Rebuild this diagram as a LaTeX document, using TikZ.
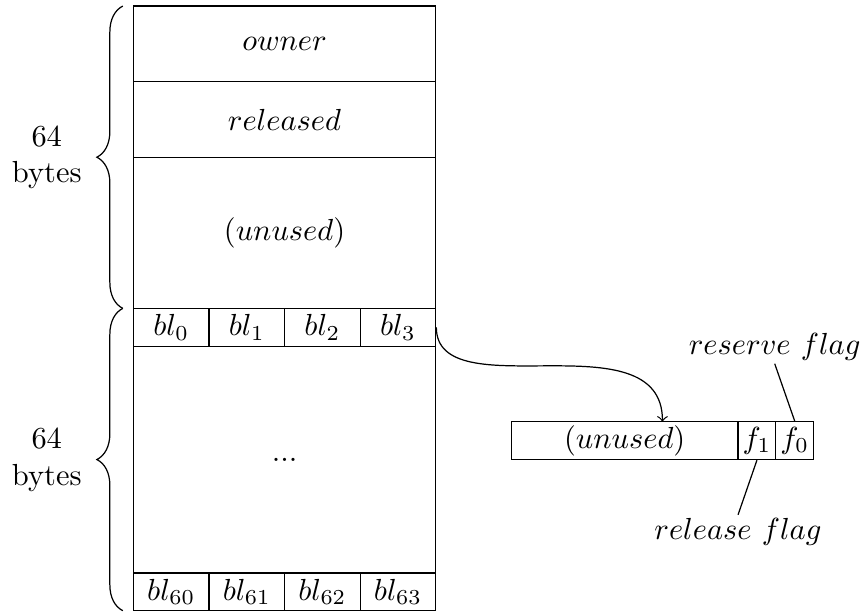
\documentclass[tikz,border=0pt]{standalone}
\usetikzlibrary{decorations.pathreplacing}
\begin{document}
\begin{tikzpicture}[x=0.4356cm, y=0.4356cm,
    field/.style={draw, inner sep=0pt, minimum width=3.4848cm},
    blk/.style={draw, inner sep=0pt, minimum width=0.8712cm, minimum height=0.4356cm},
    bit/.style={draw, inner sep=0pt, minimum width=0.4356cm, minimum height=0.4356cm},
    flaglabel/.style={inner sep=1pt, anchor=base},
    sizebrace/.style={decorate, decoration={brace, amplitude=8.5pt}}]
    \useasboundingbox (-3.53,-0.03) rectangle (19.36,16.16);
    % header fields
    \node[field, minimum height=0.8712cm] (owner) at (4,15) {$owner$};
    \node[field, minimum height=0.8712cm] (released) at (4,13) {$released$};
    \node[field, minimum height=1.7424cm] (unused) at (4,10) {$(unused)$};
    % block bytes
    \node[field, minimum height=2.6136cm] (blmid) at (4,4) {...};
    \node[blk] (bl0) at (1,7.5) {$bl_0$};
    \node[blk] (bl1) at (3,7.5) {$bl_1$};
    \node[blk] (bl2) at (5,7.5) {$bl_2$};
    \node[blk] (bl3) at (7,7.5) {$bl_3$};
    \node[blk] (bl60) at (1,0.5) {$bl_{60}$};
    \node[blk] (bl61) at (3,0.5) {$bl_{61}$};
    \node[blk] (bl62) at (5,0.5) {$bl_{62}$};
    \node[blk] (bl63) at (7,0.5) {$bl_{63}$};
    % sizes
    \draw[sizebrace] (-0.28,8) -- (-0.28,16)
        node[midway, left=10pt, align=center] (hdrsize) {64\\bytes};
    \draw[sizebrace] (-0.28,0) -- (-0.28,8)
        node[midway, left=10pt, align=center] (blsize) {64\\bytes};
    % one block byte
    \node[draw, inner sep=0pt, minimum width=2.6136cm, minimum height=0.4356cm] (flagunused) at (13,4.5) {$(unused)$};
    \node[bit] (f1) at (16.5,4.5) {$f_1$};
    \node[bit] (f0) at (17.5,4.5) {$f_0$};
    \node[flaglabel] (reserve) at (16.97,6.79) {$reserve\ flag$};
    \node[flaglabel] (release) at (16,1.88) {$release\ flag$};
    \draw (f0.north) -- (reserve.south);
    \draw (f1.south) -- (release.north);
    \coordinate (flagin) at (14,5);
    \draw[->] (bl3.east) .. controls +(0,-2.2) and +(0,2.8) .. (flagin);
\end{tikzpicture}
\end{document}
